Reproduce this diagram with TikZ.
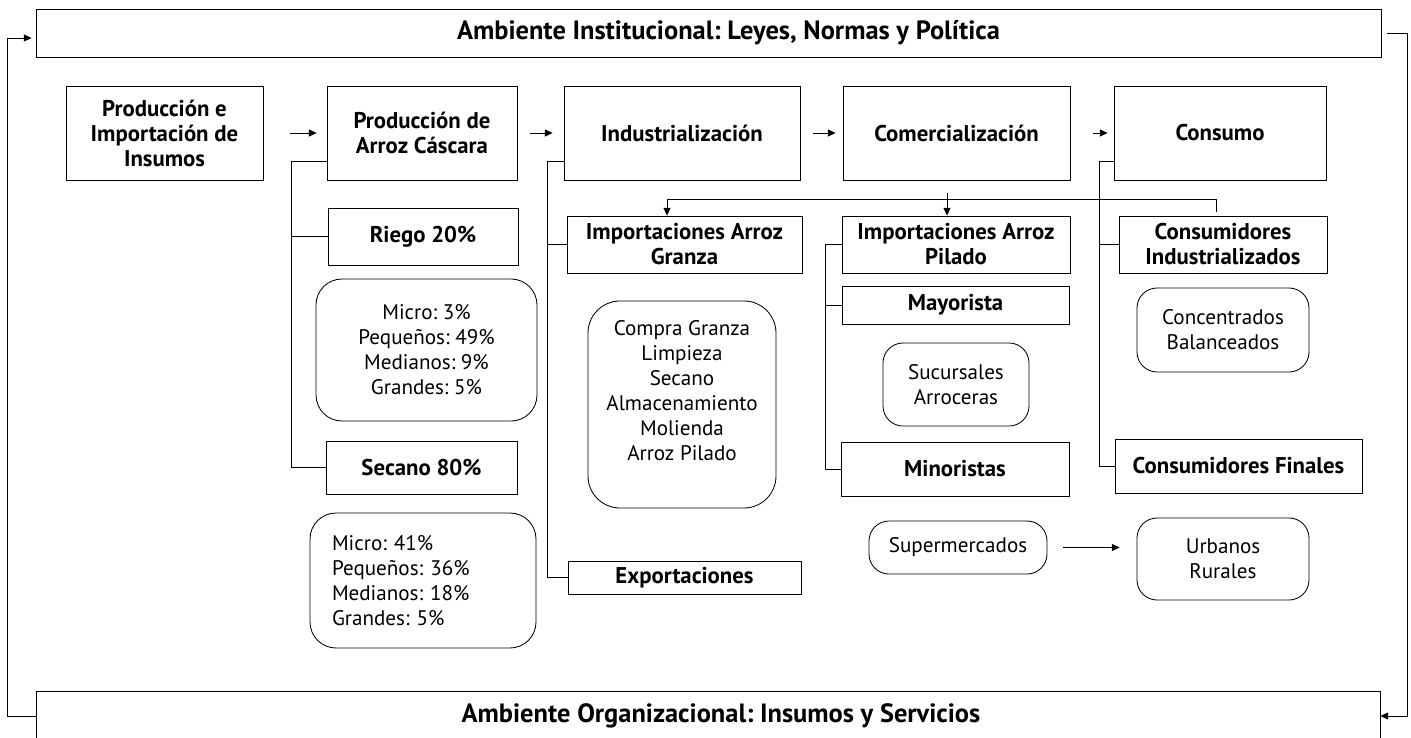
\documentclass[tikz,border=0pt]{standalone}
\usepackage{fontspec}
\setmainfont{PT Sans}
\frenchspacing
\usepackage{tikz}
\usetikzlibrary{arrows, arrows.meta}

\begin{document}
\begin{tikzpicture}[
        x=1cm, y=-1cm,
        every node/.style={font=\fontsize{15}{17.8}\selectfont},
        box/.style={draw, line width=0.6pt, rectangle, align=center, inner sep=2pt,
            font=\bfseries\fontsize{16.2}{17.8}\selectfont},
        banner/.style={box, font=\bfseries\fontsize{18.8}{20}\selectfont},
        soft/.style={draw, line width=0.6pt, rounded corners=0.5cm, align=center, inner sep=2pt},
        link/.style={line width=0.5pt},
        tip/.style={-{Triangle[length=5.5pt,width=5pt]}}
    ]
        \useasboundingbox (0,0) rectangle (35.275,18.45);

        % ambientes
        \node[banner, minimum width = 33.625cm, minimum height = 1.2cm] (inst) at (17.7125,0.825) {\hspace*{1cm}Ambiente Institucional: Leyes, Normas y Política};
        \node[banner, minimum width = 33.6cm, minimum height = 1.25cm] (org) at (17.7,17.9) {\hspace*{0.65cm}Ambiente Organizacional: Insumos y Servicios};

        % cadena principal
        \node[box, minimum width = 4.925cm, minimum height = 2.35cm] (insumos) at (4.1125,3.325) {Producción e\\Importación de\\Insumos};
        \node[box, minimum width = 4.75cm, minimum height = 2.35cm] (cascara) at (10.55,3.325) {Producción de\\Arroz Cáscara};
        \node[box, minimum width = 5.9cm, minimum height = 2.35cm] (indus) at (17.05,3.325) {Industrialización};
        \node[box, minimum width = 5.675cm, minimum height = 2.35cm] (comer) at (23.9125,3.325) {Comercialización};
        \node[box, minimum width = 5.3cm, minimum height = 2.35cm] (consumo) at (30.5,3.325) {Consumo};

        % produccion
        \node[box, minimum width = 4.75cm, minimum height = 1.425cm] (riego) at (10.575,5.9125) {Riego 20\%};
        \node[soft, rounded corners = 0.65cm, minimum width = 5.525cm, minimum height = 3.55cm] (riegotam) at (10.6625,8.75) {Micro: 3\%\\Pequeños: 49\%\\Medianos: 9\%\\Grandes: 5\%};
        \node[box, minimum width = 4.775cm, minimum height = 1.325cm] (secano) at (10.5375,11.6875) {Secano 80\%};
        \node[soft, rounded corners = 0.65cm, align = left, text width = 4.55cm, inner xsep = 0.55cm, minimum height = 3.375cm] (secanotam) at (10.575,14.5125) {Micro: 41\%\\Pequeños: 36\%\\Medianos: 18\%\\Grandes: 5\%};

        % industria
        \node[box, minimum width = 5.875cm, minimum height = 1.425cm] (granza) at (17.1125,6.1125) {Importaciones Arroz\\Granza};
        \node[soft, rounded corners = 0.8cm, minimum width = 4.7cm, minimum height = 5.175cm] (proceso) at (17.05,10.1125) {Compra Granza\\Limpieza\\Secano\\Almacenamiento\\Molienda\\Arroz Pilado\\[2pt]};
        \node[box, minimum width = 5.825cm, minimum height = 0.825cm] (expo) at (17.1125,14.4375) {Exportaciones};

        % comercio
        \node[box, minimum width = 5.7cm, minimum height = 1.425cm] (pilado) at (23.9,6.1125) {Importaciones Arroz\\Pilado};
        \node[box, minimum width = 5.675cm, minimum height = 0.95cm] (mayor) at (23.8875,7.625) {Mayorista};
        \node[soft, minimum width = 3.65cm, minimum height = 2.075cm] (sucur) at (23.9,9.6125) {Sucursales\\Arroceras};
        \node[box, minimum width = 5.7cm, minimum height = 1.35cm] (minor) at (23.875,11.725) {Minoristas};
        \node[soft, minimum width = 4.45cm, minimum height = 1.325cm] (super) at (23.95,13.6875) {Supermercados};

        % consumo
        \node[box, minimum width = 5.2cm, minimum height = 1.425cm] (consind) at (30.575,6.1125) {Consumidores\\Industrializados};
        \node[soft, minimum width = 4.3cm, minimum height = 2.1cm] (concen) at (30.575,8.25) {Concentrados\\Balanceados};
        \node[box, minimum width = 6.175cm, minimum height = 1.35cm] (consfin) at (30.9625,11.65) {Consumidores Finales};
        \node[soft, minimum width = 4.3cm, minimum height = 2.05cm] (urbano) at (30.575,13.975) {Urbanos\\Rurales};

        % flechas de la cadena
        \draw[link,tip, shorten <= 0.675cm, shorten >= 0.25cm] (insumos) -- (cascara);
        \draw[link,tip, shorten <= 0.325cm, shorten >= 0.275cm] (cascara) -- (indus);
        \draw[link,tip, shorten <= 0.325cm, shorten >= 0.175cm] (indus) -- (comer);
        \draw[link,tip, shorten <= 0.575cm, shorten >= 0.15cm] (comer) -- (consumo);

        % ramas
        \draw[link] ([yshift=-0.7cm]cascara.west) -- ++(-0.875,0) |- (secano.west);
        \draw[link] (riego.west) -- ++(-0.9,0);
        \draw[link] ([yshift=-0.7cm]indus.west) -- ++(-0.4,0) |- (expo.west);
        \draw[link] (granza.west) -- ++(-0.475,0);
        \draw[link] (pilado.west) -- ++(-0.4,0) |- (minor.west);
        \draw[link] (mayor.west) -- ++(-0.4,0);
        \draw[link] ([yshift=-0.7cm]consumo.west) -- ++(-0.35,0) |- (consfin.west);
        \draw[link] (consind.west) -- ++(-0.475,0);

        % importaciones
        \coordinate (imp) at (16.675,4.975);
        \draw[link,tip] ([xshift=-0.175cm,yshift=0.1cm]consind.north) |- (imp) -- (imp |- granza.north);
        \draw[link,tip] ([xshift=-0.225cm,yshift=0.575cm]pilado.north) -- ([xshift=-0.225cm]pilado.north);
        \draw[link,tip, shorten <= 0.4cm, shorten >= 0.425cm] (super.east) -- (super.east -| urbano.west);

        % retroalimentacion
        \draw[link,tip, shorten >= 0.1cm] (org.west) -- ++(-0.7,0) |- ([yshift=-0.125cm]inst.west);
        \draw[link,tip, shorten <= 0.15cm] (inst.east) -- ++(0.65,0) |- (org.east);
\end{tikzpicture}
\end{document}
